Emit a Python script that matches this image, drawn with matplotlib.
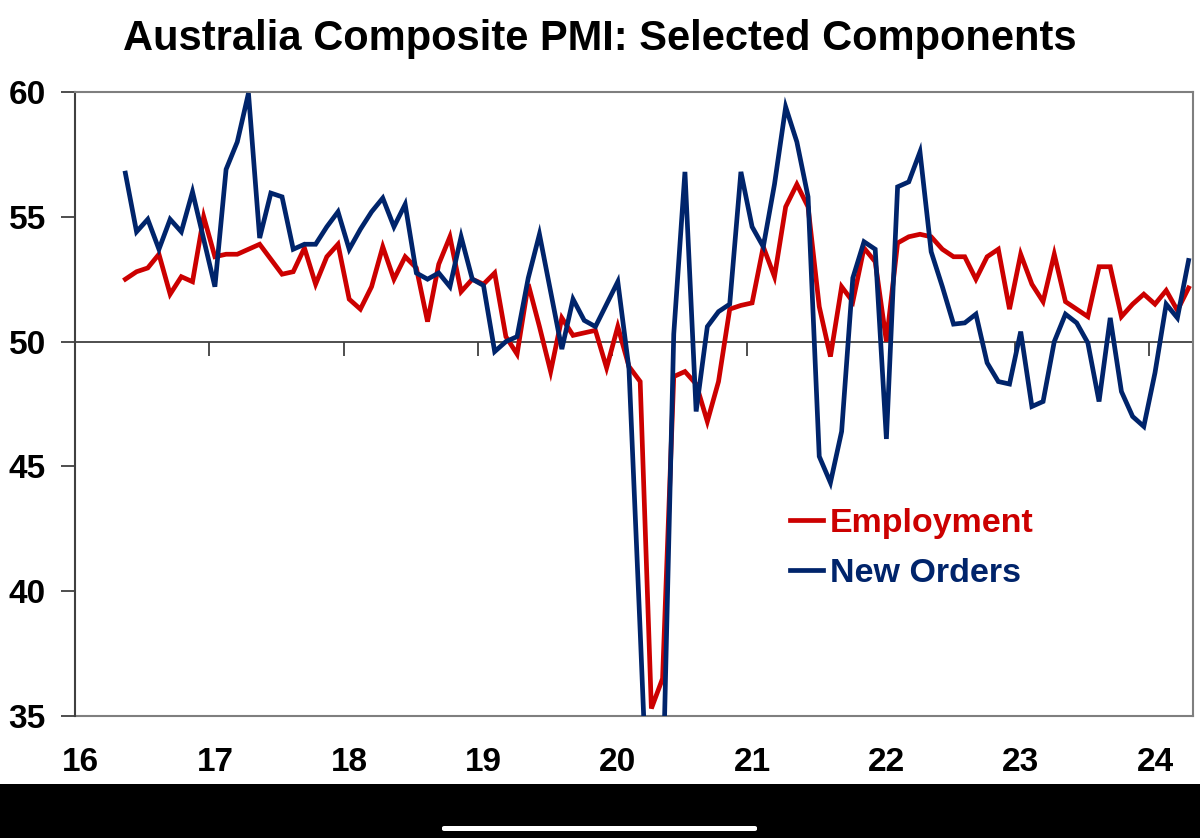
import matplotlib
matplotlib.use("Agg")
import matplotlib.pyplot as plt
from matplotlib.patches import Rectangle, FancyBboxPatch
import numpy as np
import pandas as pd

# ---------------- data ----------------
start_month = "2016-05"
n_months = 96
employment = [
    52.5, 52.8, 52.95, 53.5, 51.9, 52.6, 52.4, 55.0, 53.4, 53.5, 53.5, 53.7,
    53.9, 53.3, 52.7, 52.8, 53.75, 52.3, 53.4, 53.9, 51.7, 51.3, 52.2, 53.8,
    52.5, 53.4, 52.95, 50.8, 53.1, 54.2, 52.0, 52.5, 52.3, 52.75, 50.2, 49.5,
    52.3, 50.6, 48.8, 50.95, 50.25, 50.35, 50.45, 48.95, 50.6, 49.0, 48.4, 35.3,
    36.5, 48.6, 48.8, 48.3, 46.8, 48.4, 51.3, 51.45, 51.55, 53.8, 52.6, 55.4,
    56.3, 55.4, 51.4, 49.4, 52.2, 51.6, 53.75, 53.2, 50.0, 53.95, 54.2, 54.3,
    54.2, 53.7, 53.4, 53.4, 52.5, 53.4, 53.7, 51.3, 53.5, 52.3, 51.6, 53.5,
    51.6, 51.3, 51.0, 53.0, 53.0, 51.0, 51.5, 51.9, 51.5, 52.05, 51.25, 52.15,
]
new_orders = [
    56.75, 54.4, 54.9, 53.7, 54.9, 54.4, 56.0, 54.1, 52.2, 56.9, 58.0, 59.95,
    54.15, 55.95, 55.8, 53.7, 53.9, 53.9, 54.6, 55.2, 53.7, 54.5, 55.2, 55.75,
    54.6, 55.5, 52.75, 52.5, 52.75, 52.2, 54.2, 52.5, 52.25, 49.6, 50.0, 50.2,
    52.55, 54.3, 52.0, 49.7, 51.7, 50.85, 50.6, 51.5, 52.4, 48.9, 38.4, 27.5,
    31.6, 50.3, 56.8, 47.2, 50.6, 51.2, 51.5, 56.8, 54.6, 53.8, 56.3, 59.4,
    58.0, 55.8, 45.4, 44.35, 46.4, 52.55, 54.0, 53.7, 46.1, 56.2, 56.4, 57.6,
    53.6, 52.2, 50.7, 50.75, 51.1, 49.15, 48.4, 48.3, 50.4, 47.4, 47.6, 50.0,
    51.1, 50.75, 49.95, 47.6, 50.95, 48.0, 47.0, 46.6, 48.75, 51.5, 50.95, 53.25,
]
year_ticks = [2016, 2017, 2018, 2019, 2020, 2021, 2022, 2023, 2024]
year_labels = ["16", "17", "18", "19", "20", "21", "22", "23", "24"]
y_ticks = [35, 40, 45, 50, 55, 60]
title = "Australia Composite PMI: Selected Components"
series_names = ["Employment", "New Orders"]

# ---------------- x positions (month centres, in years) ----------------
dates = pd.date_range(start_month, periods=n_months, freq="MS")
x = dates.year + (dates.month - 1 + 0.5) / 12.0

RED = "#CC0000"
NAVY = "#00246B"
FONT = "Liberation Sans"

plt.rcParams["font.family"] = [FONT, "DejaVu Sans"]
plt.rcParams["font.weight"] = "bold"

W, H = 1200, 838
fig = plt.figure(figsize=(W / 100, H / 100), dpi=100)
fig.patch.set_facecolor("white")

l, r, t, b = 75, 1193, 92, 716
ax = fig.add_axes([l / W, 1 - b / H, (r - l) / W, (b - t) / H])

ln_emp, = ax.plot(x, employment, color=RED, lw=3.4, solid_joinstyle="miter",
                  label=series_names[0], zorder=3)
ln_no, = ax.plot(x, new_orders, color=NAVY, lw=3.4, solid_joinstyle="miter",
                 label=series_names[1], zorder=4)

ax.set_xlim(2016, 2016 + (r - l) / 134.3)
ax.set_ylim(35, 60)

# spines
for s in ["top", "right"]:
    ax.spines[s].set_color("#7f7f7f")
    ax.spines[s].set_linewidth(1.5)
ax.spines["left"].set_color("#404040")
ax.spines["left"].set_linewidth(1.5)
ax.spines["bottom"].set_position(("data", 50))
ax.spines["bottom"].set_color("#404040")
ax.spines["bottom"].set_linewidth(1.3)
ax.spines["bottom"].set_zorder(2)

ax.set_yticks(y_ticks)
ax.set_yticklabels([str(v) for v in y_ticks])
ax.tick_params(axis="y", direction="out", length=10, width=1.3, color="#404040",
               labelsize=24, pad=11)
ax.set_xticks(year_ticks)
ax.set_xticklabels([])
ax.tick_params(axis="x", direction="out", length=10, width=1.3, color="#404040")

# labels at bottom of the frame
sec = ax.secondary_xaxis("bottom")
sec.set_xticks([yv + 0.5 / 12 for yv in year_ticks], labels=year_labels)
sec.tick_params(length=0, pad=22, labelsize=24)
sec.spines["bottom"].set_color("#7f7f7f")
sec.spines["bottom"].set_linewidth(1.5)
for lab in ax.get_yticklabels() + sec.get_xticklabels():
    lab.set_fontweight("bold")

# legend
leg = ax.legend(handles=[ln_emp, ln_no], loc="upper left",
                bbox_to_anchor=(790 / W, 1 - 508 / H), bbox_transform=fig.transFigure,
                frameon=False, fontsize=24.5, handlelength=0.97, handletextpad=0.2,
                labelspacing=0.56, borderaxespad=0, borderpad=0)
for txt, c in zip(leg.get_texts(), [RED, NAVY]):
    txt.set_color(c)
    txt.set_fontweight("bold")

fig.text(0.5, 1 - 50 / H, title, ha="center", va="baseline", fontsize=30,
         fontweight="bold", color="black")

# phone-screenshot bottom bar
fig.add_artist(Rectangle((0, 0), 1, (H - 784) / H, transform=fig.transFigure,
                         facecolor="black", edgecolor="none", zorder=10))
fig.add_artist(FancyBboxPatch((442 / W, 7 / H), (757 - 442) / W, 5 / H,
                              boxstyle="round,pad=0,rounding_size=0.002",
                              transform=fig.transFigure, facecolor="white",
                              edgecolor="none", zorder=11))

fig.savefig("out.png", dpi=100, facecolor="white")
